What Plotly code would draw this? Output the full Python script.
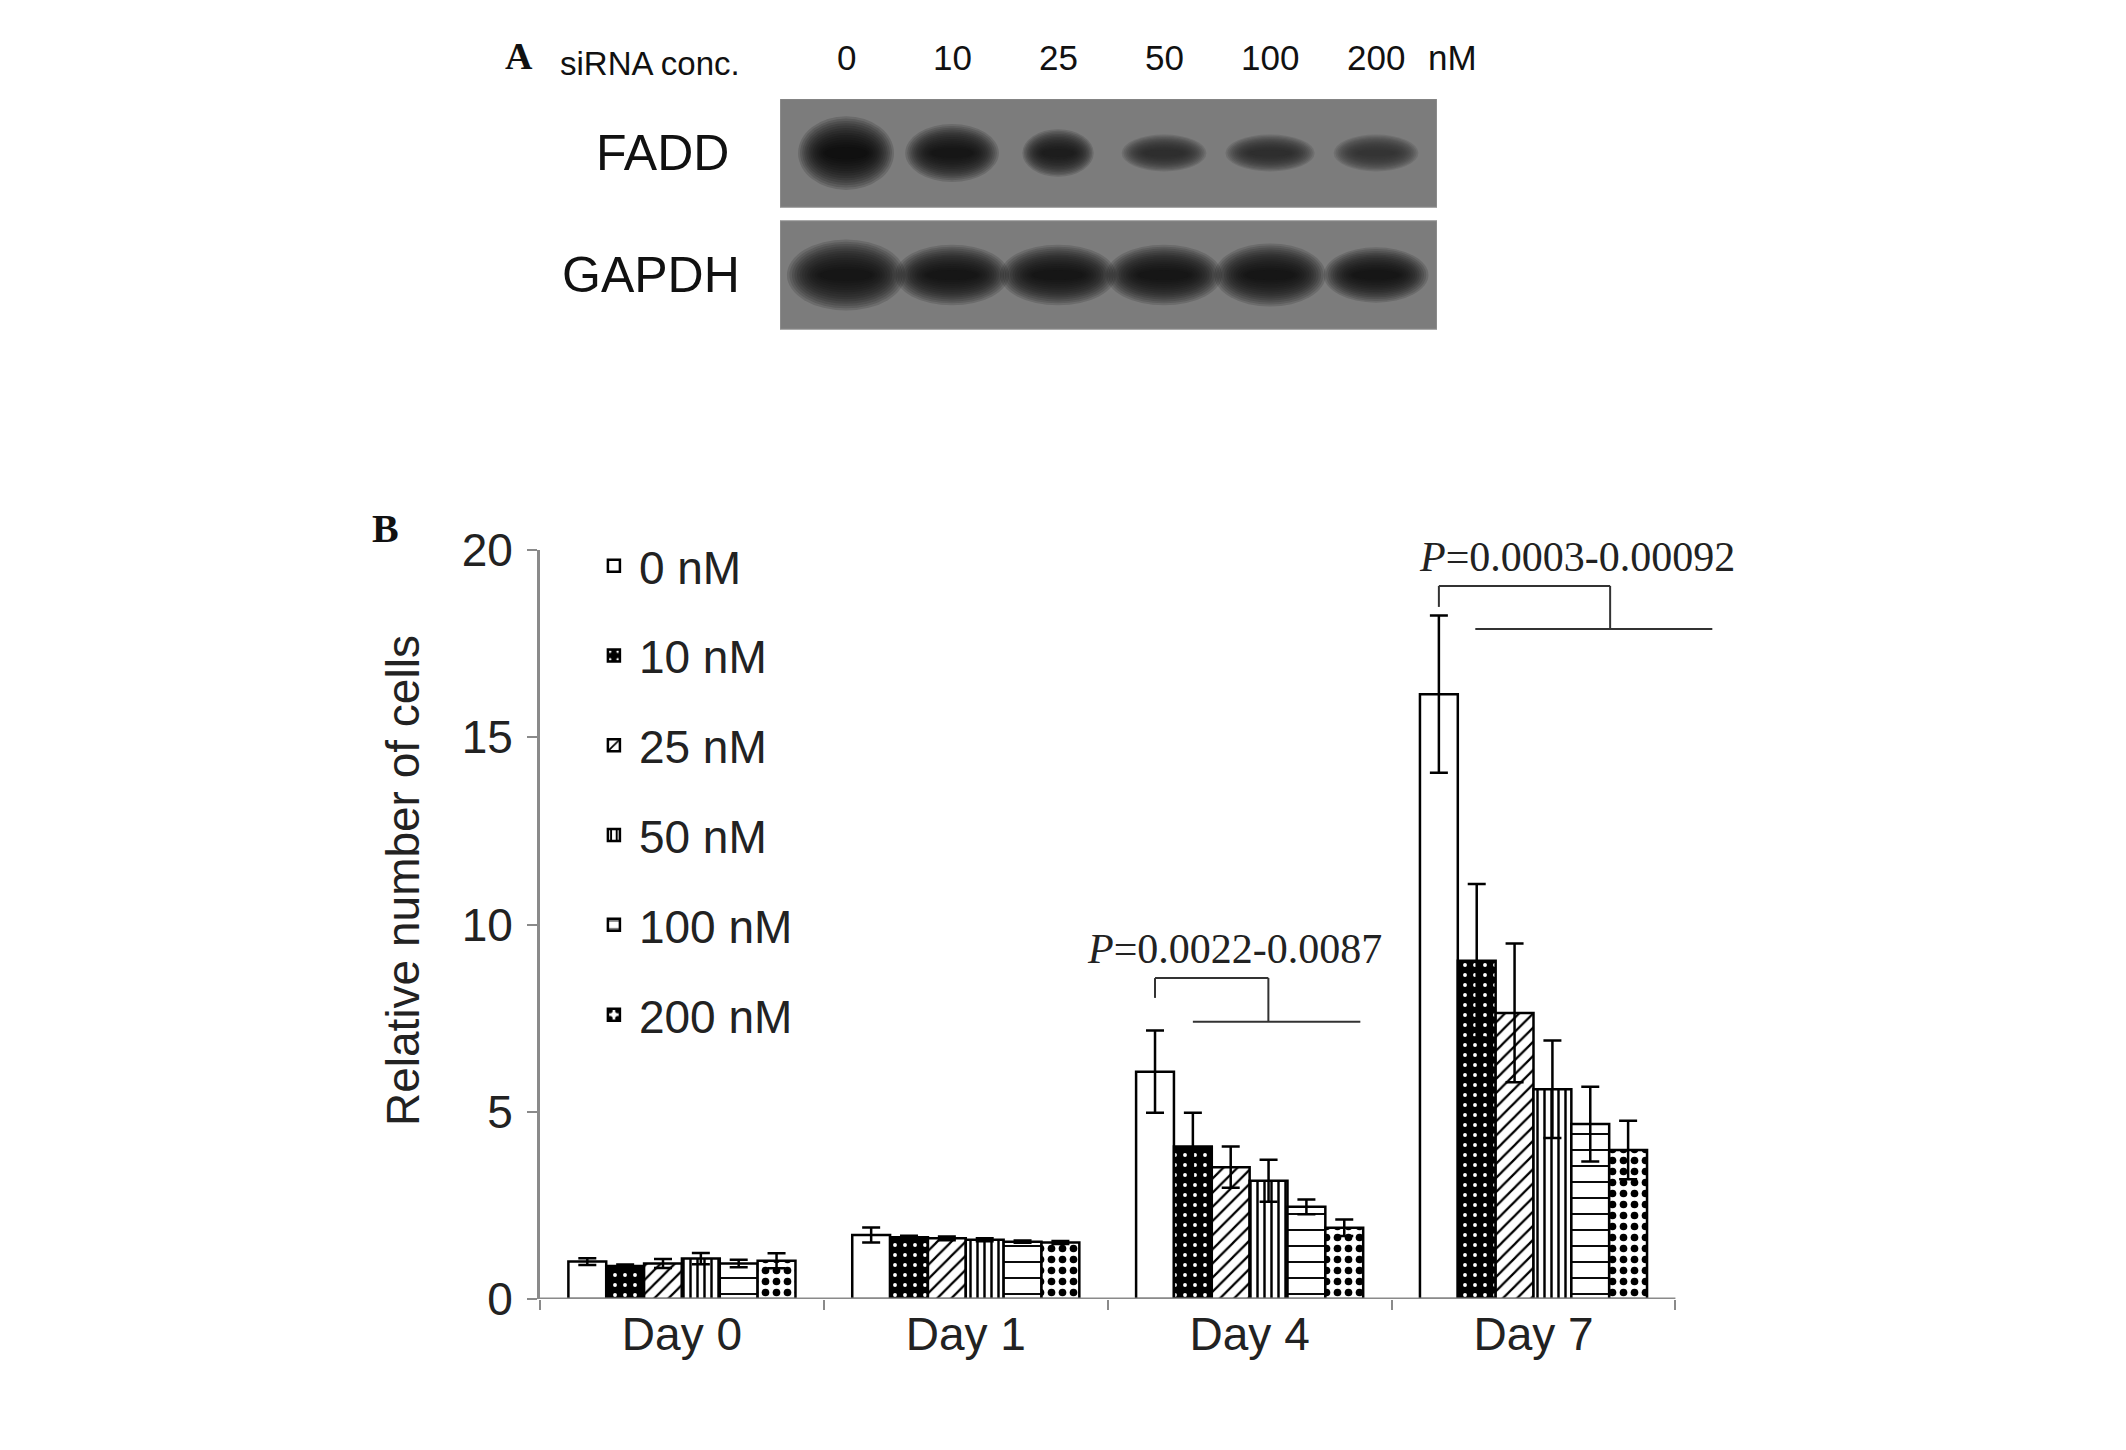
import plotly.graph_objects as go

# ---------------- data ----------------
days = ["Day 0", "Day 1", "Day 4", "Day 7"]
concs = ["0 nM", "10 nM", "25 nM", "50 nM", "100 nM", "200 nM"]

val_0 = [1.00, 1.71, 6.07, 16.15]
val_10 = [0.88, 1.65, 4.07, 9.03]
val_25 = [0.95, 1.62, 3.52, 7.64]
val_50 = [1.08, 1.58, 3.16, 5.60]
val_100 = [0.95, 1.53, 2.46, 4.67]
val_200 = [1.02, 1.51, 1.90, 3.98]

err_0 = [0.09, 0.20, 1.10, 2.10]
err_10 = [0.04, 0.04, 0.90, 2.05]
err_25 = [0.12, 0.05, 0.55, 1.85]
err_50 = [0.15, 0.04, 0.56, 1.30]
err_100 = [0.10, 0.03, 0.20, 1.00]
err_200 = [0.20, 0.04, 0.22, 0.78]

values = [val_0, val_10, val_25, val_50, val_100, val_200]
errors = [err_0, err_10, err_25, err_50, err_100, err_200]

y_ticks = [0, 5, 10, 15, 20]

# western blot (panel A)
lane_labels = ["0", "10", "25", "50", "100", "200"]
fadd_intensity = [1.00, 0.92, 0.86, 0.72, 0.70, 0.66]
fadd_width = [0.86, 0.84, 0.64, 0.76, 0.80, 0.76]
fadd_height = [0.56, 0.44, 0.36, 0.28, 0.28, 0.28]
gapdh_intensity = [0.95, 0.93, 0.95, 0.95, 0.93, 0.93]
gapdh_width = [1.06, 1.02, 1.04, 1.04, 1.00, 0.94]
gapdh_height = [0.54, 0.46, 0.46, 0.46, 0.48, 0.42]

# significance brackets (category-axis units / value units)
p_labels = ["<i>P</i>=0.0022-0.0087", "<i>P</i>=0.0003-0.00092"]
p_day = [2, 3]
p_text_y = [9.35, 19.8]
p_top_y = [8.57, 19.04]
p_drop_y = [8.04, 18.48]
p_low_y = [7.40, 17.89]
p_mid_dx = [0.066, 0.27]
p_low_x0 = [-0.20, -0.205]
p_low_x1 = [0.39, 0.63]
p_text_dx = [-0.054, 0.155]

# ---------------- styles ----------------
SANS = "Liberation Sans, Arial, sans-serif"
SERIF = "Liberation Serif, Times New Roman, serif"
AXIS_GRAY = "#8a8a8a"
W, H = 2126, 1450

patterns = [
    dict(shape=""),
    dict(shape=".", fgcolor="white", bgcolor="black", size=10, solidity=0.12, fillmode="replace"),
    dict(shape="/", fgcolor="black", bgcolor="white", size=10, solidity=0.22, fillmode="replace"),
    dict(shape="|", fgcolor="black", bgcolor="white", size=7, solidity=0.35, fillmode="replace"),
    dict(shape="-", fgcolor="black", bgcolor="white", size=16, solidity=0.12, fillmode="replace"),
    dict(shape=".", fgcolor="black", bgcolor="white", size=11, solidity=0.38, fillmode="replace"),
]
colors = ["white", "black", "white", "white", "white", "white"]

fig = go.Figure()

for i, c in enumerate(concs):
    fig.add_trace(go.Bar(
        x=days, y=values[i], name=c, legendgroup=c,
        marker=dict(color=colors[i], line=dict(color="black", width=2.5), pattern=patterns[i]),
        error_y=dict(type="data", array=errors[i], visible=True, color="black",
                     thickness=2.5, width=9),
        xaxis="x", yaxis="y",
    ))

# blot axes carrier (invisible trace)
fig.add_trace(go.Scatter(x=[0, 5], y=[0, 1], mode="markers", marker=dict(opacity=0),
                         showlegend=False, hoverinfo="skip", xaxis="x2", yaxis="y2"))

n_bar = len(concs)
group_w = 0.8
bar_w = group_w / n_bar

shapes = []
# x-axis baseline
shapes.append(dict(type="line", xref="x", yref="y", x0=-0.5, x1=len(days) - 0.5, y0=0, y1=0,
                   line=dict(color=AXIS_GRAY, width=3), layer="above"))

annotations = []
# brackets
for k in range(len(p_labels)):
    d = p_day[k]
    xl = d - group_w / 2 + bar_w / 2
    xm = d + p_mid_dx[k]
    line = dict(color="#333333", width=2)
    shapes.append(dict(type="line", xref="x", yref="y", x0=xl, x1=xl, y0=p_drop_y[k], y1=p_top_y[k], line=line))
    shapes.append(dict(type="line", xref="x", yref="y", x0=xl, x1=xm, y0=p_top_y[k], y1=p_top_y[k], line=line))
    shapes.append(dict(type="line", xref="x", yref="y", x0=xm, x1=xm, y0=p_top_y[k], y1=p_low_y[k], line=line))
    shapes.append(dict(type="line", xref="x", yref="y", x0=d + p_low_x0[k], x1=d + p_low_x1[k],
                       y0=p_low_y[k], y1=p_low_y[k], line=line))
    annotations.append(dict(x=d + p_text_dx[k], y=p_text_y[k], xref="x", yref="y", text=p_labels[k],
                            xanchor="center", yanchor="middle",
                            showarrow=False, font=dict(family=SERIF, size=42, color="#222222")))

# blot boxes and bands (soft bands from many stacked translucent ellipses)
row_half = 0.445
blot_bg = "#7c7c7c"
rows = [(1, fadd_intensity, fadd_width, fadd_height), (0, gapdh_intensity, gapdh_width, gapdh_height)]
n_layers = 14
layers = [(1.08 - 0.9 * t / (n_layers - 1), 0.15) for t in range(n_layers)]
for (ry, inten, wid, hei) in rows:
    shapes.append(dict(type="rect", xref="x2", yref="y2", x0=-0.623, x1=5.575,
                       y0=ry - row_half, y1=ry + row_half, fillcolor=blot_bg,
                       line=dict(color="#9a9a9a", width=1), layer="above"))
    for j in range(len(lane_labels)):
        g = int(118 - 112 * inten[j])
        for scale, op in layers:
            w = wid[j] * (0.35 + 0.65 * scale) / 2
            h = hei[j] * scale / 2
            shapes.append(dict(type="circle", xref="x2", yref="y2",
                               x0=j - w, x1=j + w, y0=ry - h, y1=ry + h,
                               fillcolor=f"rgba({g},{g},{g},{op})", line=dict(width=0), layer="above"))

# lane labels
lab_font = dict(family=SANS, size=35, color="#111111")
for j, lab in enumerate(lane_labels):
    annotations.append(dict(x=j, y=1 - 57 / H, xref="x2", yref="paper", text=lab, showarrow=False,
                            xanchor="center", yanchor="middle", font=lab_font))
annotations.append(dict(x=1452 / W, y=1 - 57 / H, xref="paper", yref="paper", text="nM", showarrow=False,
                        xanchor="center", yanchor="middle", font=lab_font))
annotations.append(dict(x=650 / W, y=1 - 64 / H, xref="paper", yref="paper", text="siRNA conc.",
                        xanchor="center", yanchor="middle",
                        showarrow=False, font=dict(family=SANS, size=33, color="#111111")))
annotations.append(dict(x=519 / W, y=1 - 56 / H, xref="paper", yref="paper", text="<b>A</b>",
                        xanchor="center", yanchor="middle",
                        showarrow=False, font=dict(family=SERIF, size=38, color="#111111")))
annotations.append(dict(x=662 / W, y=1, xref="paper", yref="y2", text="FADD", showarrow=False,
                        xanchor="center", yanchor="middle",
                        font=dict(family=SANS, size=50, color="#111111")))
annotations.append(dict(x=651 / W, y=0, xref="paper", yref="y2", text="GAPDH", showarrow=False,
                        xanchor="center", yanchor="middle",
                        font=dict(family=SANS, size=50, color="#111111")))

# panel B labels
annotations.append(dict(x=385 / W, y=1 - 528 / H, xref="paper", yref="paper", text="<b>B</b>",
                        xanchor="center", yanchor="middle",
                        showarrow=False, font=dict(family=SERIF, size=40, color="#111111")))
annotations.append(dict(x=403 / W, y=1 - 881 / H, xref="paper", yref="paper",
                        text="Relative number of cells", textangle=-90, showarrow=False,
                        xanchor="center", yanchor="middle",
                        font=dict(family=SANS, size=46, color="#222222")))

fig.update_layout(
    width=W, height=H,
    margin=dict(l=0, r=0, t=0, b=0, pad=0, autoexpand=False),
    paper_bgcolor="white", plot_bgcolor="white",
    barmode="group", bargap=0.2, bargroupgap=0.0,
    showlegend=True,
    legend=dict(x=0.277, y=0.635, xanchor="left", yanchor="top",
                font=dict(family=SANS, size=46, color="#222222"),
                tracegroupgap=27, bgcolor="rgba(0,0,0,0)", itemwidth=40),
    xaxis=dict(domain=[540 / W, 1718 / W], range=[-0.5, 3.65], type="category",
               showline=False, showgrid=False, zeroline=False,
               ticks="outside", tickson="boundaries", ticklen=10, tickwidth=2, tickcolor=AXIS_GRAY,
               ticklabelstandoff=4,
               tickfont=dict(family=SANS, size=46, color="#222222"), anchor="y"),
    yaxis=dict(domain=[151 / H, 900 / H], range=[0, 20], tickvals=y_ticks,
               showline=True, linecolor=AXIS_GRAY, linewidth=3, showgrid=False, zeroline=False,
               ticks="outside", ticklen=10, tickwidth=2, tickcolor=AXIS_GRAY, ticklabelstandoff=5,
               tickfont=dict(family=SANS, size=46, color="#222222"), anchor="x"),
    xaxis2=dict(domain=[780 / W, 1437 / W], range=[-0.623, 5.575], visible=False,
                showgrid=False, zeroline=False, anchor="y2", fixedrange=True),
    yaxis2=dict(domain=[1120 / H, 1351 / H], range=[-0.451, 1.443], visible=False,
                showgrid=False, zeroline=False, anchor="x2", fixedrange=True),
    shapes=shapes,
    annotations=annotations,
)

fig.write_html("out.html", config={"displayModeBar": False},
               post_script="document.body.style.margin='0';document.body.style.overflow='hidden';")
